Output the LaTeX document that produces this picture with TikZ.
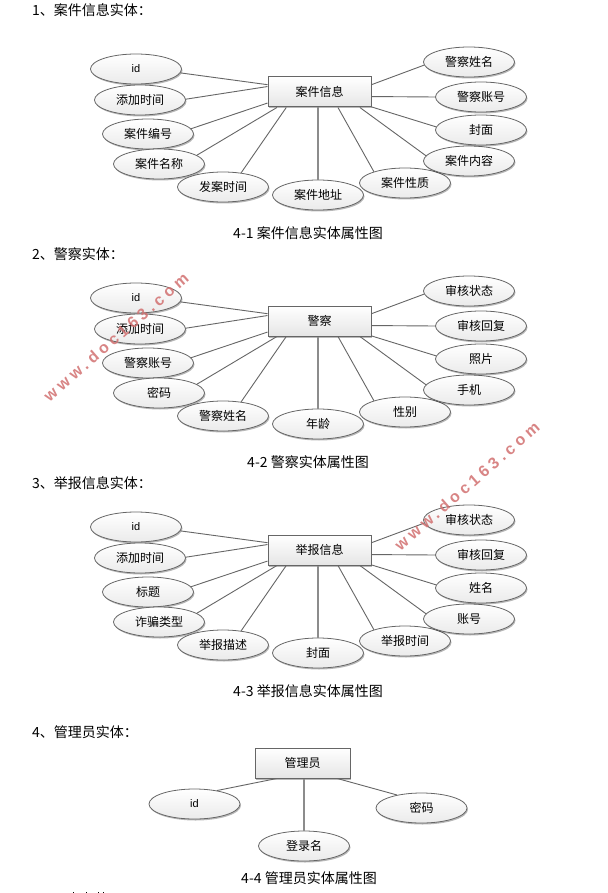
\documentclass[tikz,border=0pt]{standalone}
\usepackage{fontspec}
\setmainfont{Noto Sans CJK SC}
\newfontfamily\latinfont{Liberation Sans}
\newfontfamily\markfont[LetterSpace=25]{Liberation Sans Bold}
\usetikzlibrary{shapes.geometric,shadows}
\definecolor{edgegray}{HTML}{666666}
\definecolor{markrose}{HTML}{D27070}
\tikzset{
  x=1pt,y=-1pt,
  softshadow/.style={drop shadow={shadow xshift=1pt,shadow yshift=-1.5pt,opacity=.28,fill=black}},
  attr/.style={ellipse,draw=edgegray,line width=.8pt,top color=white,bottom color=black!8,minimum width=91pt,minimum height=30pt,inner sep=0pt,softshadow,font=\fontsize{12}{12}\selectfont,text=black},
  entity/.style={rectangle,draw=edgegray,line width=1pt,top color=white,bottom color=black!10,inner sep=0pt,softshadow,font=\fontsize{12}{12}\selectfont,text=black},
  link/.style={draw=edgegray,line width=.9pt},
  thicklink/.style={draw=black!45,line width=1.6pt},
  heading/.style={anchor=west,inner sep=0pt,font=\fontsize{14}{14}\selectfont},
  caption/.style={inner sep=0pt,font=\fontsize{14}{14}\selectfont},
  watermark/.style={inner sep=0pt,text=markrose,opacity=.85,font=\markfont\fontsize{16}{16}\selectfont,rotate=41}
}
% \attrlink{name}{x,y}{label}{ellipse angle}{box angle}
\newcommand{\attrlink}[5]{%
  \node[attr] (#1) at (#2) {#3};
  \draw[link] (#1.#4) -- (box.#5);
}
\newcommand{\starset}[1]{%
  \node[entity,minimum width=103pt,minimum height=30pt] (box) at (319.5,92) {#1};
}
\newcommand{\idlabel}{{\latinfont\fontsize{11}{11}\selectfont id}}
\begin{document}
\begin{tikzpicture}
\useasboundingbox (0,0) rectangle (607,893);
\fill[white] (0,0) rectangle (607,893);

\node[heading] (h1) at (32,10) {1、案件信息实体：};
\node[heading] (h2) at (32,254) {2、警察实体：};
\node[heading] (h3) at (32,483) {3、举报信息实体：};
\node[heading] (h4) at (32,732) {4、管理员实体：};

\node[caption] (c1) at (308,233) {4-1 案件信息实体属性图};
\node[caption] (c2) at (308,462) {4-2 警察实体属性图};
\node[caption] (c3) at (308,691) {4-3 举报信息实体属性图};
\node[caption] (c4) at (309,878) {4-4 管理员实体属性图};

% Diagram 1
\begin{scope}[name prefix=a-]
\starset{案件信息}
\attrlink{p1}{136,69}{\idlabel}{-5}{172.3}
\attrlink{p2}{140,100}{添加时间}{1}{174.5}
\attrlink{p3}{148,134}{案件编号}{7.6}{192}
\attrlink{p4}{159,164}{案件名称}{13}{200.8}
\attrlink{p5}{223,187}{发案时间}{38}{205.5}
\node[attr] (p6) at (318,195) {案件地址};
\draw[thicklink] (p6.north) -- (p6.north |- box.south);
\attrlink{p7}{405,183}{案件性质}{160}{-40.6}
\attrlink{p8}{469,161}{案件内容}{173.5}{-21.8}
\attrlink{p9}{481,130}{封面}{176}{-16.2}
\attrlink{p10}{481,97}{警察账号}{180}{-5.5}
\attrlink{p11}{469,62}{警察姓名}{184}{8.8}
\end{scope}

% Diagram 2
\begin{scope}[yshift=-229pt,name prefix=b-]
\starset{警察}
\attrlink{p1}{136,69}{\idlabel}{-5}{172.3}
\attrlink{p2}{140,100}{添加时间}{1}{174.5}
\attrlink{p3}{148,134}{警察账号}{7.6}{192}
\attrlink{p4}{159,164}{密码}{13}{200.8}
\attrlink{p5}{223,187}{警察姓名}{38}{205.5}
\node[attr] (p6) at (318,195) {年龄};
\draw[thicklink] (p6.north) -- (p6.north |- box.south);
\attrlink{p7}{405,183}{性别}{160}{-40.6}
\attrlink{p8}{469,161}{手机}{173.5}{-21.8}
\attrlink{p9}{481,130}{照片}{176}{-16.2}
\attrlink{p10}{481,97}{审核回复}{180}{-5.5}
\attrlink{p11}{469,62}{审核状态}{184}{8.8}
\end{scope}

% Diagram 3
\begin{scope}[yshift=-458pt,name prefix=c-]
\starset{举报信息}
\attrlink{p1}{136,69}{\idlabel}{-5}{172.3}
\attrlink{p2}{140,100}{添加时间}{1}{174.5}
\attrlink{p3}{148,134}{标题}{7.6}{192}
\attrlink{p4}{159,164}{诈骗类型}{13}{200.8}
\attrlink{p5}{223,187}{举报描述}{38}{205.5}
\node[attr] (p6) at (318,195) {封面};
\draw[thicklink] (p6.north) -- (p6.north |- box.south);
\attrlink{p7}{405,183}{举报时间}{160}{-40.6}
\attrlink{p8}{469,161}{账号}{173.5}{-21.8}
\attrlink{p9}{481,130}{姓名}{176}{-16.2}
\attrlink{p10}{481,97}{审核回复}{180}{-5.5}
\attrlink{p11}{469,62}{审核状态}{184}{8.8}
\end{scope}

% Diagram 4
\begin{scope}[name prefix=d-]
\node[entity,minimum width=95pt,minimum height=30pt] (box) at (302.5,763) {管理员};
\attrlink{p1}{194.5,804}{\idlabel}{31}{211.5}
\attrlink{p2}{421.5,808}{密码}{152}{-24.8}
\node[attr] (p3) at (304,846) {登录名};
\draw[thicklink] (p3.north) -- (p3.north |- box.south);
\end{scope}

% Watermarks
\node[watermark] (w1) at (116,337) {www.doc163.com};
\node[watermark] (w2) at (467,486) {www.doc163.com};

% Tops of the text cut off by the lower edge
\foreach \sx in {73,86,98,103} \fill[black] (\sx-.5,891.5) rectangle (\sx+.5,893);
\end{tikzpicture}
\end{document}
